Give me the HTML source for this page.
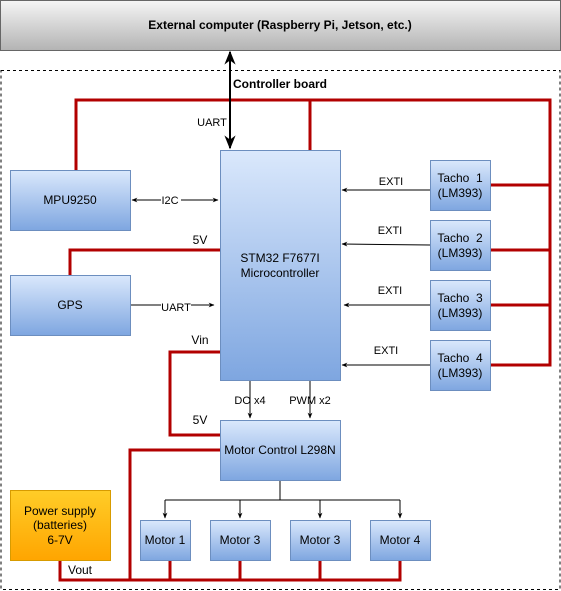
<!DOCTYPE html>
<html><head><meta charset="utf-8"><style>
html,body{margin:0;padding:0;background:#fff;}
svg{display:block;font-family:"Liberation Sans",Arial,sans-serif;}
</style></head><body>
<svg width="561" height="591" viewBox="0 0 561 591" xmlns="http://www.w3.org/2000/svg">
<defs>
<linearGradient id="blue" x1="0" y1="0" x2="0" y2="1"><stop offset="0" stop-color="#dae8fc"/><stop offset="1" stop-color="#7ea6e0"/></linearGradient>
<linearGradient id="grey" x1="0" y1="0" x2="0" y2="1"><stop offset="0" stop-color="#f5f5f5"/><stop offset="1" stop-color="#b3b3b3"/></linearGradient>
<linearGradient id="orange" x1="0" y1="0" x2="0" y2="1"><stop offset="0" stop-color="#ffcd28"/><stop offset="1" stop-color="#ffa500"/></linearGradient>
<marker id="ar" viewBox="0 0 10 10" refX="9" refY="5" markerWidth="7" markerHeight="7" orient="auto-start-reverse"><path d="M0,1 L10,5 L0,9 L3,5 Z" fill="#000"/></marker>
<marker id="arB" viewBox="0 0 10 10" refX="9" refY="5" markerWidth="6" markerHeight="6" orient="auto-start-reverse"><path d="M0,1 L10,5 L0,9 L3,5 Z" fill="#000"/></marker>
</defs>
<rect x="0.5" y="0.5" width="560" height="50" fill="url(#grey)" stroke="#666"/>
<text x="280" y="29" text-anchor="middle" font-size="12" font-weight="bold" fill="#000">External computer (Raspberry Pi, Jetson, etc.)</text>
<rect x="1" y="70.5" width="559" height="519" fill="none" stroke="#000" stroke-dasharray="3,3"/>
<text x="233" y="88" font-size="12" font-weight="bold">Controller board</text>

<g fill="none" stroke="#b20000" stroke-width="3">
<path d="M76,170 V100 H550 V365 H490"/>
<path d="M310,100 V150"/>
<path d="M490,185 H550 M490,250 H550 M490,305 H550"/>
<path d="M220,250 H70 V275"/>
<path d="M220,352 H170 V435 H220"/>
<path d="M220,450 H130 V580"/>
<path d="M60,560 V580 H400 V560 M170,560 V580 M240,560 V580 M320,560 V580"/>
</g>

<g fill="none" stroke="#000" stroke-width="1">
<line x1="230" y1="52" x2="230" y2="148" stroke-width="2" marker-start="url(#ar)" marker-end="url(#ar)"/>
<line x1="132" y1="200" x2="218" y2="200" marker-start="url(#arB)" marker-end="url(#arB)"/>
<line x1="130" y1="305" x2="214" y2="305" marker-end="url(#arB)"/>
<line x1="430" y1="190" x2="342" y2="190" marker-end="url(#arB)"/>
<line x1="430" y1="245" x2="342" y2="244" marker-end="url(#arB)"/>
<line x1="430" y1="305" x2="344" y2="305" marker-end="url(#arB)"/>
<line x1="430" y1="365" x2="342" y2="365" marker-end="url(#arB)"/>
<line x1="250" y1="380" x2="250" y2="418" marker-end="url(#arB)"/>
<line x1="310" y1="380" x2="310" y2="418" marker-end="url(#arB)"/>
<path d="M280,480 V500 M165,500 H400"/>
<line x1="165" y1="500" x2="165" y2="518" marker-end="url(#arB)"/>
<line x1="240" y1="500" x2="240" y2="518" marker-end="url(#arB)"/>
<line x1="320" y1="500" x2="320" y2="518" marker-end="url(#arB)"/>
<line x1="400" y1="500" x2="400" y2="518" marker-end="url(#arB)"/>
</g>

<g stroke="#6c8ebf" fill="url(#blue)">
<rect x="10.5" y="170.5" width="120" height="60"/>
<rect x="220.5" y="150.5" width="120" height="230"/>
<rect x="10.5" y="275.5" width="120" height="60"/>
<rect x="430.5" y="160.5" width="60" height="50"/>
<rect x="430.5" y="220.5" width="60" height="50"/>
<rect x="430.5" y="280.5" width="60" height="50"/>
<rect x="430.5" y="340.5" width="60" height="50"/>
<rect x="220.5" y="420.5" width="120" height="60"/>
<rect x="140.5" y="520.5" width="50" height="40"/>
<rect x="210.5" y="520.5" width="60" height="40"/>
<rect x="290.5" y="520.5" width="60" height="40"/>
<rect x="370.5" y="520.5" width="60" height="40"/>
</g>
<rect x="10.5" y="490.5" width="100" height="70" fill="url(#orange)" stroke="#d79b00"/>

<g font-size="12" fill="#000" text-anchor="middle">
<text x="70" y="204">MPU9250</text>
<text x="70" y="309">GPS</text>
<text x="280" y="262">STM32 F7677I</text>
<text x="280" y="277">Microcontroller</text>
<text x="460" y="182">Tacho&#160; 1</text><text x="460" y="197">(LM393)</text>
<text x="460" y="242">Tacho&#160; 2</text><text x="460" y="257">(LM393)</text>
<text x="460" y="302">Tacho&#160; 3</text><text x="460" y="317">(LM393)</text>
<text x="460" y="362">Tacho&#160; 4</text><text x="460" y="377">(LM393)</text>
<text x="280" y="454">Motor Control L298N</text>
<text x="165" y="544">Motor 1</text>
<text x="240" y="544">Motor 3</text>
<text x="320" y="544">Motor 3</text>
<text x="400" y="544">Motor 4</text>
<text x="60" y="515">Power supply</text>
<text x="60" y="529">(batteries)</text>
<text x="60" y="544">6-7V</text>
<text x="200" y="244">5V</text>
<text x="200" y="344">Vin</text>
<text x="200" y="424">5V</text>
<text x="80" y="574">Vout</text>
</g>
<g font-size="11" fill="#000" text-anchor="middle">
<text x="212" y="126">UART</text>
<rect x="161" y="194" width="20" height="12" fill="#fff"/><text x="170" y="204">I2C</text>
<rect x="161" y="300" width="30" height="12" fill="#fff"/><text x="176" y="311">UART</text>
<text x="391" y="185">EXTI</text>
<text x="390" y="234">EXTI</text>
<text x="390" y="294">EXTI</text>
<text x="386" y="354">EXTI</text>
<text x="250" y="404">DO x4</text>
<text x="310" y="404">PWM x2</text>
</g>
</svg>
</body></html>
